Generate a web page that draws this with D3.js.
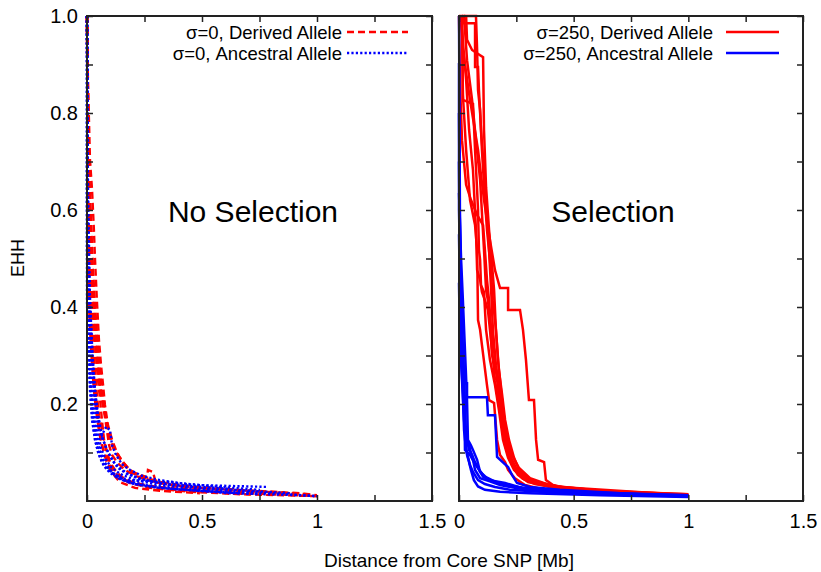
<!DOCTYPE html>
<html>
<head>
<meta charset="utf-8">
<script src="https://cdn.jsdelivr.net/npm/d3@7"></script>
<style>
  body { margin: 0; background: #fff; }
  text { font-family: "Liberation Sans", Arial, Helvetica, sans-serif; fill: #000; }
</style>
</head>
<body>
<div id="chart"></div>
<script>
// EHH curves, each one a list of [distance (Mb), EHH] points
var noSelDerived = [
  [[0,1],[0.004,0.827],[0.009,0.662],[0.013,0.559],[0.022,0.456],[0.03,0.373],[0.039,0.301],[0.048,0.249],[0.057,0.208],[0.065,0.167],[0.074,0.126],[0.087,0.101],[0.1,0.08],[0.122,0.064],[0.152,0.049],[0.196,0.039],[0.274,0.031],[0.404,0.025],[0.578,0.019],[0.796,0.014],[1.0,0.01]],
  [[0,1],[0.004,0.724],[0.013,0.621],[0.022,0.518],[0.03,0.414],[0.039,0.353],[0.048,0.291],[0.057,0.239],[0.07,0.198],[0.083,0.157],[0.096,0.115],[0.109,0.095],[0.13,0.08],[0.165,0.064],[0.209,0.052],[0.274,0.043],[0.317,0.037],[0.426,0.029],[0.622,0.023],[0.883,0.016]],
  [[0,1],[0.004,0.868],[0.013,0.703],[0.022,0.641],[0.03,0.559],[0.035,0.497],[0.043,0.414],[0.052,0.332],[0.061,0.28],[0.07,0.239],[0.078,0.198],[0.091,0.157],[0.109,0.126],[0.126,0.105],[0.143,0.089],[0.17,0.072],[0.204,0.058],[0.261,0.049],[0.265,0.064],[0.287,0.06],[0.296,0.043],[0.361,0.033],[0.491,0.027],[0.665,0.021],[0.839,0.016]],
  [[0,1],[0.004,0.621],[0.009,0.497],[0.017,0.414],[0.026,0.332],[0.035,0.27],[0.043,0.219],[0.052,0.177],[0.065,0.146],[0.078,0.115],[0.091,0.089],[0.109,0.07],[0.135,0.054],[0.178,0.041],[0.252,0.031],[0.383,0.023],[0.535,0.019],[0.709,0.014]],
  [[0,1],[0.004,0.786],[0.009,0.621],[0.017,0.497],[0.026,0.394],[0.039,0.311],[0.052,0.249],[0.065,0.208],[0.083,0.167],[0.1,0.132],[0.113,0.111],[0.135,0.095],[0.161,0.078],[0.187,0.064],[0.23,0.052],[0.317,0.039],[0.47,0.029],[0.665,0.023],[0.926,0.016],[1.0,0.012]],
  [[0,1],[0.004,0.518],[0.013,0.414],[0.022,0.322],[0.03,0.26],[0.039,0.208],[0.048,0.167],[0.057,0.132],[0.07,0.105],[0.087,0.078],[0.109,0.058],[0.143,0.039],[0.209,0.027],[0.317,0.021],[0.491,0.016]],
  [[0,1],[0.009,0.682],[0.017,0.579],[0.026,0.476],[0.039,0.373],[0.052,0.291],[0.065,0.229],[0.078,0.188],[0.091,0.146],[0.109,0.115],[0.13,0.095],[0.161,0.074],[0.204,0.056],[0.265,0.043],[0.361,0.033],[0.535,0.025],[0.752,0.019],[0.97,0.014]],
  [[0,1],[0.004,0.456],[0.013,0.353],[0.022,0.28],[0.03,0.229],[0.039,0.188],[0.052,0.146],[0.065,0.115],[0.083,0.089],[0.104,0.068],[0.135,0.052],[0.187,0.037],[0.274,0.027],[0.448,0.019],[0.665,0.014],[1.0,0.01]]
]

var noSelAncestral = [
  [[0,1],[0,0.621],[0.004,0.456],[0.009,0.353],[0.013,0.27],[0.017,0.208],[0.026,0.157],[0.035,0.126],[0.048,0.101],[0.065,0.08],[0.091,0.064],[0.13,0.052],[0.178,0.043],[0.274,0.041],[0.361,0.039],[0.461,0.033],[0.787,0.029]],
  [[0,1],[0.004,0.579],[0.009,0.435],[0.017,0.332],[0.026,0.249],[0.035,0.188],[0.048,0.142],[0.061,0.109],[0.078,0.089],[0.104,0.07],[0.143,0.056],[0.209,0.043],[0.317,0.033],[0.491,0.025],[0.709,0.019],[1.0,0.01]],
  [[0,1],[0,0.518],[0.004,0.394],[0.009,0.311],[0.017,0.229],[0.03,0.167],[0.043,0.126],[0.061,0.095],[0.083,0.074],[0.113,0.058],[0.165,0.043],[0.252,0.033],[0.383,0.025],[0.578,0.019],[0.752,0.014]],
  [[0,1],[0.004,0.497],[0.013,0.373],[0.022,0.291],[0.035,0.219],[0.048,0.167],[0.065,0.132],[0.087,0.105],[0.109,0.085],[0.135,0.068],[0.174,0.056],[0.23,0.045],[0.317,0.037],[0.448,0.031],[0.622,0.025]],
  [[0,1],[0,0.414],[0.004,0.311],[0.013,0.229],[0.022,0.167],[0.035,0.126],[0.052,0.095],[0.074,0.072],[0.1,0.058],[0.143,0.045],[0.209,0.035],[0.317,0.027],[0.491,0.021],[0.665,0.016]],
  [[0,1],[0.004,0.662],[0.009,0.518],[0.013,0.414],[0.022,0.322],[0.03,0.249],[0.043,0.188],[0.057,0.151],[0.07,0.126],[0.091,0.101],[0.117,0.08],[0.143,0.068],[0.178,0.056],[0.239,0.045],[0.339,0.035],[0.491,0.027],[0.709,0.021],[0.883,0.016]],
  [[0,1],[0.004,0.538],[0.013,0.414],[0.022,0.311],[0.035,0.229],[0.048,0.177],[0.065,0.136],[0.083,0.153],[0.1,0.146],[0.109,0.115],[0.126,0.095],[0.152,0.076],[0.187,0.064],[0.239,0.052],[0.317,0.043],[0.404,0.037],[0.578,0.029],[0.752,0.023]],
  [[0,1],[0.004,0.435],[0.009,0.332],[0.017,0.249],[0.026,0.188],[0.039,0.146],[0.052,0.109],[0.07,0.085],[0.096,0.064],[0.13,0.049],[0.187,0.037],[0.274,0.029],[0.426,0.023],[0.622,0.016],[0.926,0.012],[1.0,0.01]]
]

var selDerived = [
  [[0,1],[0.013,1],[0.017,0.837],[0.031,0.724],[0.048,0.621],[0.07,0.569],[0.079,0.518],[0.083,0.373],[0.092,0.353],[0.1,0.322],[0.122,0.239],[0.131,0.208],[0.153,0.202],[0.166,0.126],[0.179,0.095],[0.201,0.08],[0.214,0.064],[0.244,0.047],[0.288,0.033],[0.375,0.023],[0.528,0.016],[0.789,0.012],[1.0,0.01]],
  [[0.013,1],[0.022,1],[0.035,0.909],[0.057,0.827],[0.074,0.744],[0.092,0.662],[0.109,0.518],[0.118,0.435],[0.126,0.414],[0.135,0.373],[0.144,0.301],[0.17,0.254],[0.188,0.208],[0.201,0.146],[0.218,0.105],[0.231,0.074],[0.257,0.054],[0.301,0.039],[0.44,0.025],[0.702,0.016],[1.0,0.012]],
  [[0.013,1],[0.017,0.985],[0.07,0.985],[0.07,0.895],[0.083,0.895],[0.087,0.847],[0.096,0.765],[0.109,0.682],[0.118,0.621],[0.131,0.518],[0.14,0.435],[0.148,0.353],[0.161,0.28],[0.179,0.219],[0.192,0.167],[0.209,0.115],[0.222,0.085],[0.244,0.064],[0.275,0.047],[0.331,0.035],[0.484,0.023],[0.789,0.014],[1.0,0.012]],
  [[0.031,1],[0.035,0.951],[0.057,0.93],[0.105,0.915],[0.109,0.765],[0.118,0.647],[0.131,0.559],[0.144,0.487],[0.153,0.435],[0.161,0.353],[0.174,0.27],[0.188,0.219],[0.201,0.167],[0.218,0.126],[0.24,0.089],[0.262,0.064],[0.297,0.047],[0.375,0.033],[0.615,0.021],[1.0,0.012]],
  [[0.013,1],[0.017,0.827],[0.061,0.819],[0.07,0.724],[0.079,0.641],[0.083,0.6],[0.087,0.518],[0.092,0.497],[0.096,0.445],[0.109,0.431],[0.118,0.353],[0.135,0.291],[0.157,0.239],[0.174,0.188],[0.192,0.126],[0.214,0.089],[0.24,0.064],[0.283,0.045],[0.397,0.029],[0.659,0.019],[1.0,0.012]],
  [[0.009,1],[0.017,0.93],[0.048,0.827],[0.083,0.724],[0.109,0.621],[0.135,0.538],[0.157,0.476],[0.179,0.439],[0.214,0.439],[0.214,0.394],[0.266,0.394],[0.279,0.353],[0.292,0.291],[0.305,0.208],[0.327,0.208],[0.336,0.126],[0.345,0.085],[0.371,0.08],[0.379,0.043],[0.41,0.033],[0.484,0.025],[0.702,0.019],[1.0,0.014]],
  [[0,1],[0.004,0.868],[0.013,0.744],[0.031,0.652],[0.052,0.621],[0.079,0.59],[0.105,0.569],[0.113,0.518],[0.122,0.456],[0.131,0.414],[0.14,0.353],[0.153,0.311],[0.161,0.27],[0.174,0.219],[0.192,0.167],[0.205,0.126],[0.222,0.095],[0.249,0.068],[0.275,0.052],[0.327,0.039],[0.44,0.027],[0.702,0.016],[1.0,0.012]],
  [[0.004,1],[0.013,0.971],[0.031,0.868],[0.044,0.765],[0.061,0.682],[0.074,0.559],[0.079,0.476],[0.092,0.456],[0.1,0.431],[0.113,0.414],[0.126,0.394],[0.135,0.353],[0.144,0.311],[0.157,0.249],[0.17,0.208],[0.188,0.157],[0.201,0.115],[0.222,0.085],[0.257,0.06],[0.31,0.043],[0.44,0.029],[1.0,0.012]],
  [[0.022,1],[0.074,1],[0.079,0.93],[0.083,0.847],[0.092,0.806],[0.1,0.724],[0.113,0.621],[0.122,0.559],[0.135,0.497],[0.148,0.414],[0.161,0.353],[0.17,0.291],[0.179,0.249],[0.192,0.188],[0.209,0.136],[0.231,0.095],[0.262,0.068],[0.31,0.047],[0.406,0.031],[0.615,0.021],[1.0,0.014]]
]

var selAncestral = [
  [[0,0.903],[0,0.6],[0.004,0.497],[0.009,0.414],[0.013,0.311],[0.017,0.243],[0.035,0.243],[0.035,0.214],[0.122,0.214],[0.126,0.177],[0.157,0.177],[0.166,0.091],[0.214,0.07],[0.231,0.054],[0.253,0.037],[0.31,0.029],[0.44,0.023],[0.702,0.016],[1.0,0.01]],
  [[0,1],[0.004,0.6],[0.009,0.45],[0.013,0.35],[0.022,0.25],[0.026,0.105],[0.035,0.101],[0.048,0.095],[0.065,0.08],[0.079,0.07],[0.113,0.049],[0.135,0.043],[0.201,0.037],[0.275,0.027],[0.44,0.019],[0.702,0.014],[1.0,0.01]],
  [[0,0.635],[0.009,0.5],[0.017,0.414],[0.026,0.311],[0.035,0.208],[0.039,0.126],[0.052,0.115],[0.061,0.105],[0.079,0.085],[0.092,0.06],[0.118,0.049],[0.161,0.039],[0.222,0.031],[0.353,0.023],[0.615,0.016],[1.0,0.01]],
  [[0,0.8],[0.004,0.55],[0.009,0.4],[0.013,0.3],[0.017,0.25],[0.022,0.188],[0.026,0.142],[0.035,0.126],[0.044,0.105],[0.057,0.095],[0.07,0.064],[0.092,0.047],[0.131,0.041],[0.179,0.033],[0.266,0.025],[0.44,0.019],[0.789,0.014],[1.0,0.012]],
  [[0,0.55],[0.004,0.42],[0.009,0.3],[0.017,0.22],[0.022,0.146],[0.031,0.105],[0.039,0.091],[0.048,0.074],[0.061,0.06],[0.083,0.043],[0.113,0.035],[0.157,0.029],[0.222,0.023],[0.353,0.019],[0.615,0.014],[1.0,0.01]],
  [[0,0.45],[0.004,0.33],[0.013,0.25],[0.022,0.167],[0.031,0.115],[0.035,0.095],[0.044,0.08],[0.052,0.064],[0.065,0.043],[0.083,0.03],[0.113,0.023],[0.179,0.019],[0.31,0.016],[0.615,0.012],[1.0,0.008]],
  [[0,0.7],[0.004,0.5],[0.013,0.36],[0.022,0.26],[0.026,0.2],[0.031,0.132],[0.044,0.115],[0.052,0.1],[0.07,0.08],[0.092,0.06],[0.105,0.05],[0.135,0.043],[0.188,0.035],[0.275,0.027],[0.484,0.019],[1.0,0.012]]
]

var xTicks = [0, 0.25, 0.5, 0.75, 1, 1.25, 1.5]
var xTickLabels = ["0", "", "0.5", "", "1", "", "1.5"]
var yTicks = [0.1, 0.2, 0.3, 0.4, 0.5, 0.6, 0.7, 0.8, 0.9, 1.0]
var yTickLabels = ["", "0.2", "", "0.4", "", "0.6", "", "0.8", "", "1.0"]
var panelTitles = ["No Selection", "Selection"]
var legendLeft = ["\u03C3=0, Derived Allele", "\u03C3=0, Ancestral Allele"]
var legendRight = ["\u03C3=250, Derived Allele", "\u03C3=250, Ancestral Allele"]

var width = 821, height = 572
var plotTop = 16, plotBottom = 501
var panels = [
  { x0: 87, x1: 432, title: panelTitles[0], titleX: 253, legend: legendLeft, legText: 342, leg0: 347, leg1: 408,
    derived: noSelDerived, ancestral: noSelAncestral, dashD: "7,4", dashA: "2.2,2.2", sw: 2.4, yLabels: true },
  { x0: 459, x1: 803, title: panelTitles[1], titleX: 613, legend: legendRight, legText: 713, leg0: 726, leg1: 779,
    derived: selDerived, ancestral: selAncestral, dashD: null, dashA: null, sw: 2.5, yLabels: false }
]

var svg = d3.select("#chart").append("svg")
  .attr("width", width)
  .attr("height", height)

var yScale = d3.scaleLinear().domain([0, 1]).range([plotBottom, plotTop])

panels.forEach(function(p) {
  var xScale = d3.scaleLinear().domain([0, 1.5]).range([p.x0, p.x1])
  var g = svg.append("g")

  var line = d3.line()
    .x(function(d) { return xScale(d[0]) })
    .y(function(d) { return yScale(d[1]) })

  // curves: derived first, ancestral on top
  g.selectAll(".der").data(p.derived).enter().append("path")
    .attr("class", "der")
    .attr("d", line)
    .style("fill", "none")
    .style("stroke", "#ff0000")
    .style("stroke-width", p.sw)
    .style("stroke-dasharray", p.dashD)

  g.selectAll(".anc").data(p.ancestral).enter().append("path")
    .attr("class", "anc")
    .attr("d", line)
    .style("fill", "none")
    .style("stroke", "#0000ff")
    .style("stroke-width", p.sw)
    .style("stroke-dasharray", p.dashA)

  // axes with inward ticks on all four sides
  g.append("g").attr("transform", "translate(0," + plotBottom + ")")
    .call(d3.axisBottom(xScale).tickValues(xTicks).tickSize(-6).tickPadding(13)
      .tickFormat(function(d, i) { return xTickLabels[i] }))
  g.append("g").attr("transform", "translate(0," + plotTop + ")")
    .call(d3.axisTop(xScale).tickValues(xTicks).tickSize(-6).tickFormat(""))
  g.append("g").attr("transform", "translate(" + p.x0 + ",0)")
    .call(d3.axisLeft(yScale).tickValues(yTicks).tickSize(-6).tickPadding(9)
      .tickFormat(function(d, i) { return p.yLabels ? yTickLabels[i] : "" }))
  g.append("g").attr("transform", "translate(" + p.x1 + ",0)")
    .call(d3.axisRight(yScale).tickValues(yTicks).tickSize(-6).tickFormat(""))

  g.selectAll(".domain").remove()
  g.selectAll(".tick line").style("stroke", "#222").style("stroke-width", 1.5)
  g.selectAll(".tick text").style("font-size", "20px").style("font-family", "'Liberation Sans', Arial, sans-serif").style("fill", "#000")

  g.append("rect")
    .attr("x", p.x0).attr("y", plotTop)
    .attr("width", p.x1 - p.x0).attr("height", plotBottom - plotTop)
    .style("fill", "none").style("stroke", "#222").style("stroke-width", 2)

  g.append("text")
    .attr("x", p.titleX).attr("y", 222)
    .attr("text-anchor", "middle")
    .style("font-size", "30px")
    .text(p.title)

  // legend
  var legY = [32, 53]
  p.legend.forEach(function(t, i) {
    g.append("text")
      .attr("x", p.legText).attr("y", legY[i])
      .attr("text-anchor", "end")
      .attr("dominant-baseline", "central")
      .style("font-size", "18.5px")
      .text(t)
    g.append("line")
      .attr("x1", p.leg0).attr("x2", p.leg1)
      .attr("y1", legY[i]).attr("y2", legY[i])
      .style("stroke", i === 0 ? "#ff0000" : "#0000ff")
      .style("stroke-width", p.sw)
      .style("stroke-dasharray", i === 0 ? p.dashD : p.dashA)
  })
})

svg.append("text")
  .attr("transform", "translate(24,258) rotate(-90)")
  .attr("text-anchor", "middle")
  .style("font-size", "18px")
  .text("EHH")

svg.append("text")
  .attr("x", 449).attr("y", 567)
  .attr("text-anchor", "middle")
  .style("font-size", "19px")
  .text("Distance from Core SNP [Mb]")
</script>
</body>
</html>
